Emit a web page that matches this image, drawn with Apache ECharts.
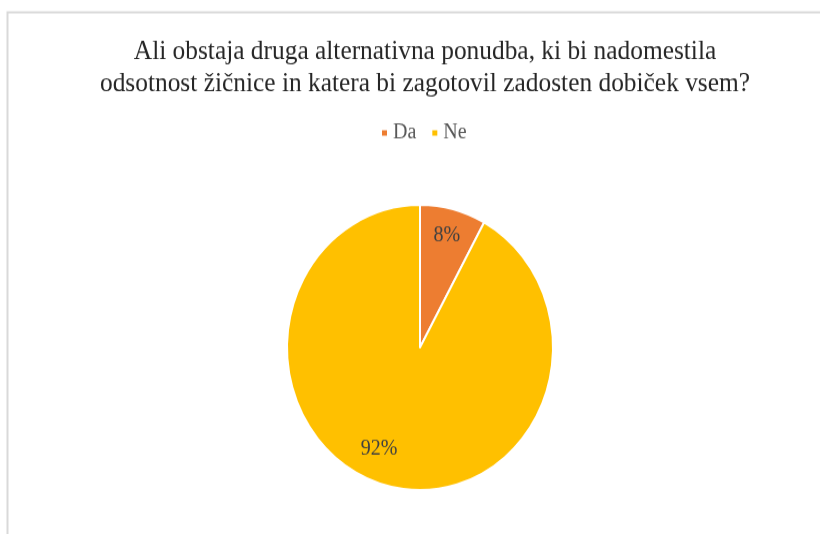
<!DOCTYPE html>
<html>
<head>
<meta charset="utf-8">
<script src="https://cdn.jsdelivr.net/npm/echarts@6/dist/echarts.min.js"></script>
<style>
  html, body { margin: 0; padding: 0; background: #fff; overflow: hidden; width: 820px; height: 534px; }
  /* the original picture is slightly stretched vertically */
  #chart { width: 820px; height: 498px; transform: scaleY(1.0723); transform-origin: 0 0; }
</style>
</head>
<body>
<div id="chart"></div>
<script>
const titleText = 'Ali obstaja druga alternativna ponudba, ki bi nadomestila\nodsotnost žičnice in katera bi zagotovil zadosten dobiček vsem?'
const categories = ['Da', 'Ne']
const values = [8, 92]
const colors = ['#ED7D31', '#FFC000']

const serif = '"Liberation Serif", "Times New Roman", serif'

const pieData = categories.map((name, i) => ({ name, value: values[i] }))
const labelData = categories.map((name, i) => {
  const item = { name, value: values[i] }
  // nudge the big slice label a bit like Excel's best fit
  if (name === 'Ne') item.label = { offset: [-14, -10] }
  return item
})

const chart = echarts.init(document.getElementById('chart'))
chart.setOption({
  animation: false,
  color: colors,
  title: {
    text: titleText,
    left: 420,
    textAlign: 'center',
    top: 28,
    textStyle: {
      fontFamily: serif,
      fontSize: 25.4,
      fontWeight: 'normal',
      color: '#262626',
      lineHeight: 30
    }
  },
  legend: {
    data: categories,
    top: 109,
    left: 375,
    icon: 'rect',
    itemWidth: 7,
    itemHeight: 7,
    itemGap: 14,
    textStyle: { fontFamily: serif, fontSize: 20, color: '#595959' }
  },
  graphic: [{
    type: 'rect',
    shape: { x: 7.5, y: 11.5, width: 830, height: 510 },
    style: { fill: 'none', stroke: '#d9d9d9', lineWidth: 2 },
    silent: true
  }],
  series: [
    {
      type: 'pie',
      center: [420, 324],
      radius: [0, 133],
      startAngle: 90,
      clockwise: true,
      data: pieData,
      label: { show: false },
      labelLine: { show: false },
      itemStyle: { borderColor: '#fff', borderWidth: 2 },
      emphasis: { disabled: true }
    },
    {
      type: 'pie',
      center: [420, 324],
      radius: [84, 126],
      startAngle: 90,
      clockwise: true,
      data: labelData,
      silent: true,
      itemStyle: { color: 'transparent' },
      label: {
        show: true,
        position: 'inside',
        formatter: '{c}%',
        fontFamily: serif,
        fontSize: 20,
        color: '#404040'
      },
      labelLine: { show: false },
      emphasis: { disabled: true }
    }
  ]
})
</script>
</body>
</html>
